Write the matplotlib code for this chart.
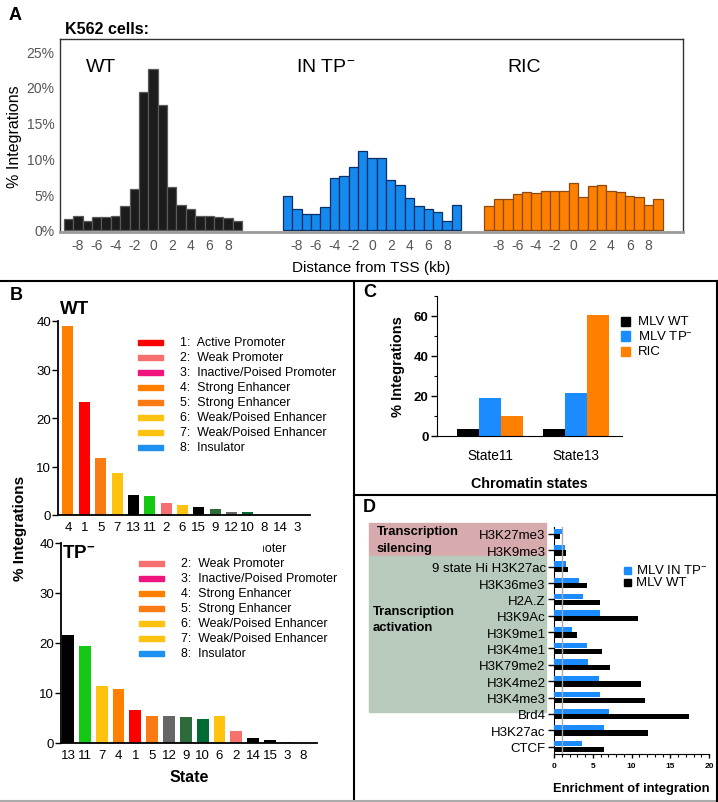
import matplotlib
matplotlib.use('Agg')
import matplotlib.pyplot as plt
from matplotlib.patches import Rectangle
from matplotlib.lines import Line2D
import numpy as np

plt.rcParams['font.family'] = ['Liberation Sans', 'DejaVu Sans']
plt.rcParams['mathtext.fontset'] = 'custom'
plt.rcParams['mathtext.rm'] = 'Liberation Sans'
plt.rcParams['mathtext.it'] = 'Liberation Sans:italic'
plt.rcParams['mathtext.bf'] = 'Liberation Sans:bold'

# ---------------- data ----------------
tss_kb = list(range(-9, 10))
wt_pct = [1.6, 1.9, 1.2, 1.8, 1.8, 2.0, 3.3, 5.7, 19.3, 22.5, 17.4, 6.0, 3.5, 3.0, 2.0, 1.9, 1.75, 1.65, 1.3]
tp_pct = [4.7, 2.9, 2.3, 2.3, 3.2, 7.2, 7.6, 8.8, 11.1, 10.1, 10.1, 7.0, 6.3, 4.5, 3.4, 2.9, 2.5, 1.3, 3.5]
ric_pct = [3.3, 4.3, 4.3, 5.0, 5.35, 5.2, 5.4, 5.5, 5.5, 6.5, 4.6, 6.2, 6.3, 5.4, 5.25, 4.7, 4.55, 3.55, 4.3]
groupsA = ["WT", "IN TP$^{-}$", "RIC"]
tick_kb = [-8, -6, -4, -2, 0, 2, 4, 6, 8]

state_colors = {1: '#FF0000', 2: '#F77070', 3: '#F0147F', 4: '#FF8000', 5: '#FA7A14',
                6: '#FFC20E', 7: '#FFC20E', 8: '#1E90F0', 9: '#2E6B3A', 10: '#006B35',
                11: '#14C814', 12: '#666666', 13: '#000000', 14: '#000000', 15: '#000000'}
legend_labels = ["1:  Active Promoter", "2:  Weak Promoter", "3:  Inactive/Poised Promoter",
                 "4:  Strong Enhancer", "5:  Strong Enhancer", "6:  Weak/Poised Enhancer",
                 "7:  Weak/Poised Enhancer", "8:  Insulator"]
wt_order = [4, 1, 5, 7, 13, 11, 2, 6, 15, 9, 12, 10, 8, 14, 3]
wt_vals = [39.0, 23.3, 11.8, 8.6, 4.05, 4.0, 2.4, 2.1, 1.6, 1.25, 0.6, 0.6, 0.1, 0.05, 0.05]
tp_order = [13, 11, 7, 4, 1, 5, 12, 9, 10, 6, 2, 14, 15, 3, 8]
tp_vals = [21.7, 19.4, 11.5, 10.9, 6.7, 5.5, 5.4, 5.3, 4.9, 5.5, 2.4, 0.95, 0.55, 0.13, 0.07]

c_states = ["State11", "State13"]
c_series = ["MLV WT", "MLV TP$^{-}$", "RIC"]
c_vals = {"MLV WT": [3.7, 3.7], "MLV TP$^{-}$": [19.2, 21.4], "RIC": [10.0, 60.5]}

d_marks = ["H3K27me3", "H3K9me3", "9 state Hi H3K27ac", "H3K36me3", "H2A.Z", "H3K9Ac",
           "H3K9me1", "H3K4me1", "H3K79me2", "H3K4me2", "H3K4me3", "Brd4", "H3K27ac", "CTCF"]
d_tp = [1.07, 1.37, 1.54, 3.2, 3.73, 5.95, 2.36, 4.2, 4.41, 5.87, 5.95, 7.11, 6.42, 3.6]
d_wt = [0.77, 1.58, 1.84, 4.24, 5.99, 10.88, 2.91, 6.21, 7.24, 11.18, 11.69, 17.47, 12.08, 6.51]
d_series = ["MLV IN TP$^{-}$", "MLV WT"]

# ---------------- layout helpers ----------------
W, H = 718, 803
fig = plt.figure(figsize=(W / 100, H / 100), dpi=100)


def rect(x0, y0, x1, y1):
    return [x0 / W, 1 - y1 / H, (x1 - x0) / W, (y1 - y0) / H]


def fx(x):
    return x / W


def fy(y):
    return 1 - y / H


# separator lines
for (xs, ys, col) in [([0, W], [282, 282], 'black'), ([354, 354], [282, H], 'black'),
                      ([354, W], [496, 496], 'black'), ([0, W], [802, 802], '#aaaaaa'),
                      ([717, 717], [282, H], 'black')]:
    fig.add_artist(Line2D([fx(xs[0]), fx(xs[1])], [fy(ys[0]), fy(ys[1])], color=col, lw=1.5,
                          transform=fig.transFigure))

# ---------------- Panel A ----------------
axA = fig.add_axes(rect(60, 40, 683, 233))
offsets = [0.0, 23.36, 44.85]
colsA = [('#1c1c1c', '#5a5a5a'), ('#1589EE', '#0b2f66'), ('#FF8000', '#8a4a10')]
for off, vals, (fc, ec) in zip(offsets, [wt_pct, tp_pct, ric_pct], colsA):
    axA.bar([off + k for k in tss_kb], vals, width=1.0, color=fc, edgecolor=ec, linewidth=0.9)
axA.set_xlim(-9.92, 56.53)
axA.set_ylim(-0.28, 26.68)
xt, xl = [], []
for off in offsets:
    for t in tick_kb:
        xt.append(off + t)
        xl.append(str(t))
axA.set_xticks(xt)
axA.set_xticklabels(xl, color='#555555', fontsize=10)
axA.set_yticks([0, 5, 10, 15, 20, 25])
axA.set_yticklabels([f"{v}%" for v in [0, 5, 10, 15, 20, 25]], color='#555555', fontsize=10)
axA.tick_params(length=0, pad=4)
for s in ['top', 'left', 'right']:
    axA.spines[s].set_color('#333333')
    axA.spines[s].set_linewidth(1)
axA.spines['bottom'].set_color('#9a9a9a')
axA.spines['bottom'].set_linewidth(2)
axA.set_ylabel("% Integrations", fontsize=11.5, labelpad=3)
axA.set_xlabel("Distance from TSS (kb)", fontsize=11, labelpad=6)
for x, t in zip([86, 296, 507], groupsA):
    fig.text(fx(x), fy(68), t, fontsize=14, va='center', ha='left')
fig.text(fx(65), fy(30), "K562 cells:", fontsize=11.5, fontweight='bold', va='center')
fig.text(fx(9), fy(15), "A", fontsize=13, fontweight='bold', va='center')

# ---------------- Panel B ----------------
def state_bars(ax, order, vals, width):
    xs = np.arange(len(order))
    ax.bar(xs, vals, width=width, color=[state_colors[s] for s in order])
    ax.set_xticks(xs)
    ax.set_xticklabels([str(s) for s in order], fontsize=9.5)
    ax.set_ylim(0, 40)
    ax.set_yticks([0, 10, 20, 30, 40])
    ax.tick_params(axis='y', labelsize=9.5, length=4, width=1, pad=1)
    ax.tick_params(axis='x', length=0, pad=4)
    for s in ['top', 'right']:
        ax.spines[s].set_visible(False)
    for s in ['left', 'bottom']:
        ax.spines[s].set_linewidth(1.3)


axB1 = fig.add_axes(rect(58, 322, 310, 516))
state_bars(axB1, wt_order, wt_vals, 0.67)
axB1.set_xlim(-0.61, 14.8)
axB2 = fig.add_axes(rect(61, 544, 317, 744))
state_bars(axB2, tp_order, tp_vals, 0.7)
axB2.set_xlim(-0.42, 14.8)
axB2.set_xlabel("State", fontsize=11.5, fontweight='bold', labelpad=6)


def state_legend(y0, x_patch=138, x_text=180):
    for i, lab in enumerate(legend_labels):
        y = y0 + 15 * i
        st = i + 1
        fig.add_artist(Rectangle((fx(x_patch), fy(y + 2.5)), 25 / W, 5 / H,
                                 color=state_colors[st], transform=fig.transFigure))
        fig.text(fx(x_text), fy(y), lab, fontsize=8.9, va='center', ha='left')


state_legend(343)
state_legend(549, x_patch=139, x_text=181)
# part of TP- legend hidden behind the WT panel
fig.add_artist(Rectangle((fx(100), fy(557)), 162 / W, 17 / H, color='white',
                         transform=fig.transFigure, zorder=10))

fig.text(fx(60), fy(310), "WT", fontsize=13.5, fontweight='bold', va='center')
fig.text(fx(62), fy(554), r"TP$^{\mathbf{-}}$", fontsize=13.5, fontweight='bold', va='center')
fig.text(fx(20), fy(528), "% Integrations", fontsize=11, fontweight='bold', rotation=90,
         va='center', ha='center')
fig.text(fx(10), fy(296), "B", fontsize=13, fontweight='bold', va='center')

# ---------------- Panel C ----------------
axC = fig.add_axes(rect(437, 297, 622, 437))
xc = np.arange(len(c_states))
bw = 0.256
c_colors = ['#000000', '#1A8CFF', '#FF8000']
for j, (ser, col) in enumerate(zip(c_series, c_colors)):
    axC.bar(xc + (j - 1) * bw, c_vals[ser], width=bw, color=col)
axC.set_xlim(-0.616, 1.535)
axC.set_ylim(0, 70)
axC.set_yticks([0, 20, 40, 60])
axC.set_yticks([10, 30, 50, 70], minor=True)
axC.set_xticks(xc)
axC.set_xticklabels(c_states, fontsize=9.8)
axC.tick_params(axis='x', length=0, pad=9)
axC.tick_params(axis='y', length=4, width=1, pad=2)
axC.tick_params(axis='y', which='minor', length=2, width=0.8)
for lab in axC.get_yticklabels():
    lab.set_fontweight('bold')
    lab.set_fontsize(9.5)
for s in ['top', 'right']:
    axC.spines[s].set_visible(False)
axC.set_ylabel("% Integrations", fontsize=10.5, fontweight='bold', labelpad=6)
axC.set_xlabel("Chromatin states", fontsize=10.3, fontweight='bold', labelpad=10)
for i, (ser, col) in enumerate(zip(c_series, c_colors)):
    y = 322 + 15 * i
    fig.add_artist(Rectangle((fx(621), fy(y + 4.5)), 9 / W, 9 / H, color=col,
                             transform=fig.transFigure))
    fig.text(fx(638), fy(y), ser, fontsize=9.5, va='center', ha='left')
fig.text(fx(363), fy(293), "C", fontsize=13, fontweight='bold', va='center')

# ---------------- Panel D ----------------
fig.add_artist(Rectangle((fx(369), fy(557)), 177 / W, 33 / H, color='#D7ABAD',
                         transform=fig.transFigure, zorder=0))
fig.add_artist(Rectangle((fx(369), fy(713)), 177 / W, 156 / H, color='#B7CABC',
                         transform=fig.transFigure, zorder=0))
axD = fig.add_axes(rect(554, 527.6, 709, 755))
axD.patch.set_alpha(0)
yd = np.arange(len(d_marks))
bh = 0.32
axD.barh(yd - 0.17, d_tp, height=bh, color='#1A8CFF', zorder=3)
axD.barh(yd + 0.17, d_wt, height=bh, color='#000000', zorder=3)
axD.axvline(1, color='#aaaaaa', lw=1, zorder=4)
axD.set_ylim(13.45, -0.45)
axD.set_xlim(0, 20)
axD.set_yticks(yd)
axD.set_yticklabels(d_marks, fontsize=9.5)
axD.set_xticks([0, 5, 10, 15, 20])
axD.set_xticks(np.arange(0, 21, 1), minor=True)
axD.tick_params(axis='x', labelsize=6, length=3, width=1, pad=3)
axD.tick_params(axis='x', which='minor', length=2, width=0.8)
axD.tick_params(axis='y', length=4, width=1, pad=2)
for lab in axD.get_xticklabels():
    lab.set_fontweight('bold')
for s in ['top', 'right']:
    axD.spines[s].set_visible(False)
axD.set_xlabel("Enrichment of integration", fontsize=9.3, fontweight='bold', labelpad=9)
for txt, y, x in [("Transcription", 532, 377), ("silencing", 549, 377),
                  ("Transcription", 612, 373), ("activation", 628, 373)]:
    fig.text(fx(x), fy(y), txt, fontsize=9.4, fontweight='bold', va='center', ha='left')
for i, (ser, col) in enumerate(zip(d_series, ['#1A8CFF', '#000000'])):
    y = 571 + 12 * i
    fig.add_artist(Rectangle((fx(624), fy(y + 3.5)), 7 / W, 7 / H, color=col,
                             transform=fig.transFigure))
    fig.text(fx(636), fy(y), ser, fontsize=9.5, va='center', ha='left')
fig.text(fx(363), fy(508), "D", fontsize=13, fontweight='bold', va='center')

fig.savefig("out.png", dpi=100)
